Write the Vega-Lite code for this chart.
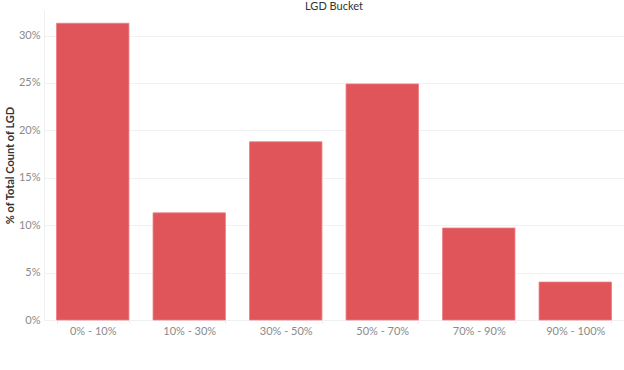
{
  "$schema": "https://vega.github.io/schema/vega-lite/v6.json",
  "autosize": {"type": "none"},
  "width": 580,
  "height": 310,
  "padding": {"left": 44, "top": 10, "right": 0, "bottom": 50},
  "background": "white",
  "title": {"text": "LGD Bucket", "fontSize": 11, "font": "Lato", "fontWeight": "normal", "color": "#333333", "offset": -2, "anchor": "middle"},
  "data": {"values": [
    {"bucket": "0% - 10%", "pct": 0.313},
    {"bucket": "10% - 30%", "pct": 0.113},
    {"bucket": "30% - 50%", "pct": 0.188},
    {"bucket": "50% - 70%", "pct": 0.249},
    {"bucket": "70% - 90%", "pct": 0.097},
    {"bucket": "90% - 100%", "pct": 0.040}
  ]},
  "mark": {"type": "bar", "color": "#E05559", "stroke": "#EC7B7E", "strokeWidth": 0.8},
  "encoding": {
    "x": {
      "field": "bucket", "type": "nominal", "sort": null,
      "scale": {"paddingInner": 0.25, "paddingOuter": 0.13},
      "axis": {"title": null, "labelAngle": 0, "labelColor": "#8a8a8a", "labelFont": "Lato", "labelFontSize": 11,
               "domainColor": "#f0f0f0", "tickColor": "#e6e6e6", "tickBand": "extent", "tickSize": 3, "labelPadding": 2, "grid": false}
    },
    "y": {
      "field": "pct", "type": "quantitative",
      "scale": {"domain": [0, 0.327], "nice": false, "zero": true},
      "axis": {"title": "% of Total Count of LGD", "format": ".0%", "values": [0, 0.05, 0.1, 0.15, 0.2, 0.25, 0.3],
               "labelColor": "#8a8a8a", "labelFont": "Lato", "labelFontSize": 11, "tickSize": 0, "labelPadding": 4,
               "domainColor": "#f0f0f0", "gridColor": "#f2f2f2", "grid": true,
               "titleFont": "Lato", "titleFontSize": 11, "titleColor": "#333333", "titleFontWeight": "bold", "titlePadding": 3}
    }
  },
  "config": {"view": {"stroke": null}}
}
